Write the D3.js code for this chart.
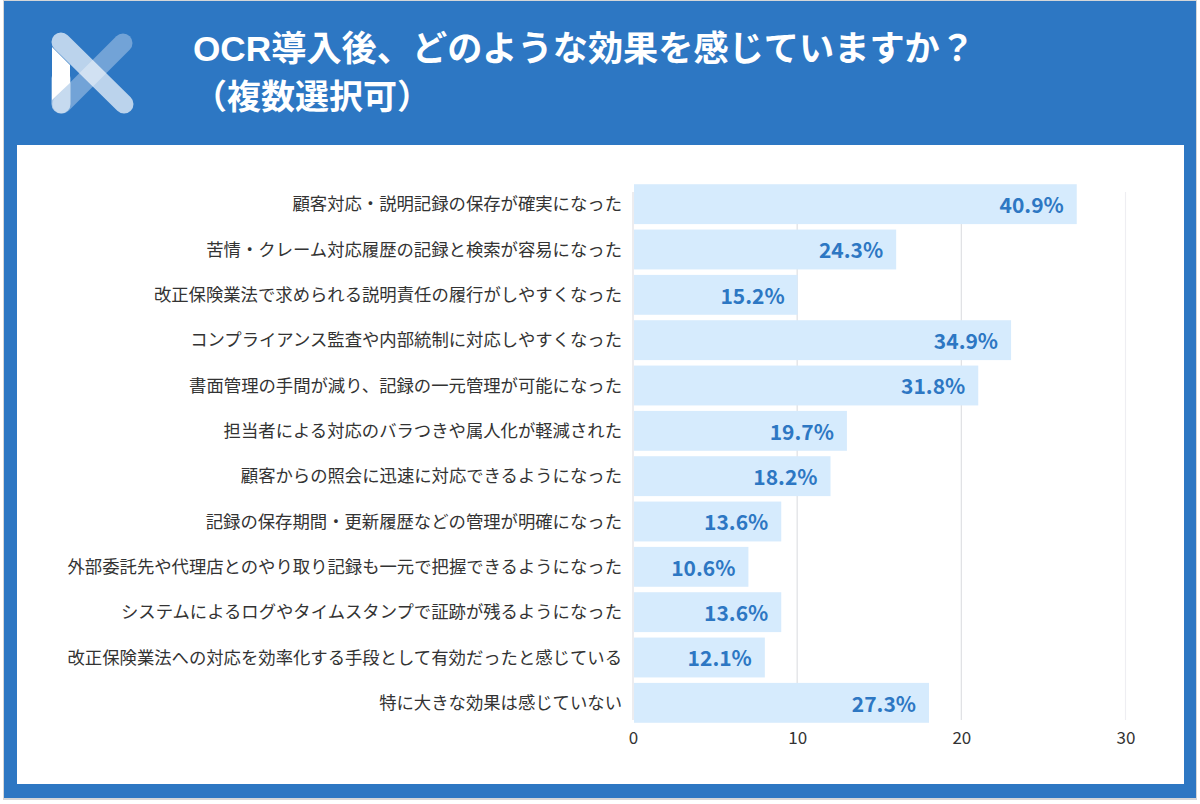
<html>
  <head>
    <meta charset='utf-8'>
    <script src='https://d3js.org/d3.v7.min.js'></script>
    <title>OCR</title>
    <style>
      html, body { margin: 0; padding: 0; background: #fff; }
      text { font-family: 'Noto Sans CJK JP', sans-serif; }
    </style>
  </head>
  <body>
    <svg id='chart' width='1200' height='804'></svg>
    <script>
        const categories = [
          '顧客対応・説明記録の保存が確実になった',
          '苦情・クレーム対応履歴の記録と検索が容易になった',
          '改正保険業法で求められる説明責任の履行がしやすくなった',
          'コンプライアンス監査や内部統制に対応しやすくなった',
          '書面管理の手間が減り、記録の一元管理が可能になった',
          '担当者による対応のバラつきや属人化が軽減された',
          '顧客からの照会に迅速に対応できるようになった',
          '記録の保存期間・更新履歴などの管理が明確になった',
          '外部委託先や代理店とのやり取り記録も一元で把握できるようになった',
          'システムによるログやタイムスタンプで証跡が残るようになった',
          '改正保険業法への対応を効率化する手段として有効だったと感じている',
          '特に大きな効果は感じていない'
        ];
        const counts = [27, 16, 10, 23, 21, 13, 12, 9, 7, 9, 8, 18];
        const percents = ['40.9%', '24.3%', '15.2%', '34.9%', '31.8%', '19.7%', '18.2%', '13.6%', '10.6%', '13.6%', '12.1%', '27.3%'];
        const xTicks = [0, 10, 20, 30];
        const titleLines = ['OCR導入後、どのような効果を感じていますか？', '（複数選択可）'];

        const blue = '#2d77c3';
        const svg = d3.select('#chart');

        // frame
        svg.append('rect').attr('x', 3).attr('y', 0).attr('width', 1194).attr('height', 800).attr('fill', '#d4d6d8');
        svg.append('rect').attr('x', 4).attr('y', 1).attr('width', 1192).attr('height', 797).attr('fill', blue);
        svg.append('rect').attr('x', 17).attr('y', 145).attr('width', 1167).attr('height', 639).attr('fill', '#fff');

        // logo
        const logo = svg.append('g').attr('stroke-linecap', 'round').attr('stroke', '#fff').attr('stroke-width', 19);
        logo.append('line').attr('x1', 61).attr('y1', 78).attr('x2', 61).attr('y2', 104).attr('stroke-opacity', 0.6);
        logo.append('path').attr('d', 'M52 47 L70 65 L70 83 L52 100 Z').attr('fill', '#fff').attr('stroke', 'none');
        logo.append('line').attr('x1', 62).attr('y1', 104).attr('x2', 123).attr('y2', 43).attr('stroke-opacity', 0.33);
        logo.append('line').attr('x1', 61).attr('y1', 42).attr('x2', 124).attr('y2', 104).attr('stroke-opacity', 0.68);

        svg.append('g').selectAll('text').data(titleLines).join('text')
            .attr('x', 193)
            .attr('y', (d, i) => 61 + i * 48)
            .attr('font-size', (d, i) => i === 0 ? 35.2 : 34)
            .attr('font-weight', 700)
            .attr('fill', '#fff')
            .style('font-family', "'Liberation Sans', 'Noto Sans CJK JP', sans-serif")
            .text(d => d);

        const x = d3.scaleLinear().domain([0, 30]).range([633, 1125.5]);
        const y = d3.scaleBand().domain(categories).range([181.5, 725.5]).paddingInner(0.12).paddingOuter(0.06);

        // grid
        svg.append('g').selectAll('line').data(xTicks).join('line')
            .attr('x1', d => x(d)).attr('x2', d => x(d))
            .attr('y1', 192).attr('y2', 720)
            .attr('stroke', d => d === 30 ? '#eeeef2' : '#dfe0e4')
            .attr('stroke-width', 1.2);

        const rows = svg.append('g').selectAll('g').data(categories).join('g');

        rows.append('rect')
            .attr('x', x(0) + 1)
            .attr('y', d => y(d))
            .attr('width', (d, i) => x(counts[i]) - x(0) - 0.5)
            .attr('height', y.bandwidth())
            .attr('fill', '#d6ebfd');

        rows.append('text')
            .attr('x', 622)
            .attr('y', d => y(d) + y.bandwidth() / 2)
            .attr('dy', '0.36em')
            .attr('text-anchor', 'end')
            .attr('font-size', 17.35)
            .attr('fill', '#333')
            .text(d => d);

        rows.append('text')
            .attr('x', (d, i) => x(counts[i]) - 12.5)
            .attr('y', d => y(d) + y.bandwidth() / 2 + 1)
            .attr('dy', '0.37em')
            .attr('text-anchor', 'end')
            .attr('font-size', 21)
            .attr('font-weight', 700)
            .attr('fill', blue)
            .text((d, i) => percents[i]);

        const axis = svg.append('g')
            .attr('transform', 'translate(0,726)')
            .call(d3.axisBottom(x).tickValues(xTicks).tickSize(0).tickPadding(6));
        axis.select('.domain').remove();
        axis.selectAll('text')
            .attr('font-family', "'Noto Sans CJK JP', sans-serif")
            .style('font-size', '17px')
            .attr('fill', '#333');
    </script>
  </body>
</html>
